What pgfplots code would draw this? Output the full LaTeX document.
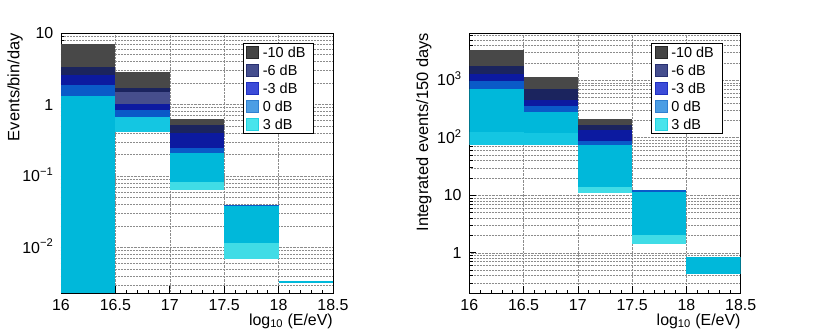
\documentclass[border=0pt]{standalone}
\usepackage{fontspec}
\setmainfont{Liberation Sans}
\usepackage{pgfplots}
\pgfplotsset{compat=1.18}

% histogram band colours
\definecolor{cgrey}{RGB}{72,72,72}
\definecolor{cnavy}{RGB}{27,36,94}
\definecolor{cslate}{RGB}{70,78,140}
\definecolor{cblue}{RGB}{12,26,160}
\definecolor{cmed}{RGB}{10,90,200}
\definecolor{ccyan}{RGB}{0,184,218}
\definecolor{ccyanb}{RGB}{20,198,226}
\definecolor{clight}{RGB}{64,220,230}
% legend swatches
\definecolor{lgA}{RGB}{69,69,69}\definecolor{lgAb}{RGB}{40,40,40}
\definecolor{lgB}{RGB}{69,78,142}\definecolor{lgBb}{RGB}{40,48,112}
\definecolor{lgC}{RGB}{60,76,216}\definecolor{lgCb}{RGB}{32,48,192}
\definecolor{lgD}{RGB}{76,158,228}\definecolor{lgDb}{RGB}{48,128,208}
\definecolor{lgE}{RGB}{72,228,236}\definecolor{lgEb}{RGB}{32,208,224}

% one filled band of a bin: x0, x1, ylow, yhigh, colour
\newcommand{\band}[5]{\addplot[draw=none, fill=#5, forget plot] coordinates {(#1,#3) (#2,#3) (#2,#4) (#1,#4)} --cycle;}

\begin{document}
\begin{tikzpicture}
\path[use as bounding box] (-61bp,-41bp) rectangle (753bp,293bp);

% Left: events per bin per day
\begin{axis}[at={(0bp,0bp)}, anchor=south west,
  ymode=log, scale only axis, width=272bp, height=260bp,
  xmin=16, xmax=18.5,
  xtick={16,16.5,17,17.5,18,18.5},
  xticklabels={16,16.5,17,17.5,18,18.5},
  minor x tick num=4,
  tick align=inside, tick pos=left,
  major tick length=7bp, minor tick length=3.5bp,
  tick style={black, line width=0.6bp},
  axis line style={line width=0.8bp},
  xmajorgrids, ymajorgrids, yminorgrids,
  grid style={densely dotted, black!45, line width=0.5bp},
  minor grid style={densely dotted, black!45, line width=0.5bp},
  ticklabel style={font=\fontsize{16}{19}\selectfont},
  xticklabel style={anchor=base, inner sep=0bp, yshift=-17bp},
  yticklabel style={anchor=base east, inner sep=0bp, xshift=-7.5bp, yshift=-5.7bp},
  xlabel={log\textsubscript{10} (E/eV)},
  xlabel style={at={(axis description cs:1,-0.1231)}, anchor=base east, inner sep=0bp, font=\fontsize{16}{19}\selectfont},
  legend image code/.code={\draw[#1, line width=0.8bp] (0bp,-6bp) rectangle (12bp,6bp);},
  legend cell align=left,
  legend style={at={(0.668,0.960)}, anchor=north west, draw=black, line width=0.8bp,
    font=\fontsize{14.5}{17}\selectfont, inner xsep=3bp, inner ysep=0bp, column sep=4bp,
    nodes={inner xsep=0bp, inner ysep=0bp, minimum height=18bp}},
  ymin=0.0023, ymax=10,
  ytick={0.01,0.1,1,10},
  yticklabels={10\textsuperscript{−2}, 10\textsuperscript{−1}, 1, 10},
  minor ytick={0.003,0.004,0.005,0.006,0.007,0.008,0.009,
               0.02,0.03,0.04,0.05,0.06,0.07,0.08,0.09,
               0.2,0.3,0.4,0.5,0.6,0.7,0.8,0.9,
               2,3,4,5,6,7,8,9},
  ylabel={Events/bin/day},
  ylabel style={at={(axis description cs:-0.1397,1)}, anchor=south east, inner sep=0bp, font=\fontsize{16.5}{19}\selectfont},
]
% bin 16.0-16.5
\band{16}{16.5}{3.38}{6.95}{cgrey}
\band{16}{16.5}{2.59}{3.38}{cnavy}
\band{16}{16.5}{1.87}{2.59}{cblue}
\band{16}{16.5}{1.33}{1.87}{cmed}
\band{16}{16.5}{0.0023}{1.33}{ccyan}
% bin 16.5-17.0
\band{16.5}{17}{1.72}{2.82}{cgrey}
\band{16.5}{17}{1.51}{1.72}{cnavy}
\band{16.5}{17}{1.02}{1.51}{cslate}
\band{16.5}{17}{0.838}{1.02}{cblue}
\band{16.5}{17}{0.662}{0.838}{cmed}
\band{16.5}{17}{0.41}{0.662}{ccyanb}
% bin 17.0-17.5
\band{17}{17.5}{0.517}{0.627}{cgrey}
\band{17}{17.5}{0.396}{0.517}{cnavy}
\band{17}{17.5}{0.249}{0.396}{cblue}
\band{17}{17.5}{0.212}{0.249}{cmed}
\band{17}{17.5}{0.083}{0.212}{ccyan}
\band{17}{17.5}{0.0637}{0.083}{clight}
% bin 17.5-18.0
\band{17.5}{18}{0.0385}{0.0397}{cmed}
\band{17.5}{18}{0.0117}{0.0385}{ccyan}
\band{17.5}{18}{0.00684}{0.0117}{clight}
% bin 18.0-18.5
\band{18}{18.5}{0.00318}{0.00336}{ccyan}

\addlegendimage{fill=lgA, draw=lgAb}\addlegendentry{-10 dB\kern5bp}
\addlegendimage{fill=lgB, draw=lgBb}\addlegendentry{-6 dB}
\addlegendimage{fill=lgC, draw=lgCb}\addlegendentry{-3 dB}
\addlegendimage{fill=lgD, draw=lgDb}\addlegendentry{0 dB}
\addlegendimage{fill=lgE, draw=lgEb}\addlegendentry{3 dB}
\end{axis}

% Right: integrated events over 150 days
\begin{axis}[at={(408.3bp,0bp)}, anchor=south west,
  ymode=log, scale only axis, width=271.4bp, height=260bp,
  xmin=16, xmax=18.5,
  xtick={16,16.5,17,17.5,18,18.5},
  xticklabels={16,16.5,17,17.5,18,18.5},
  minor x tick num=4,
  tick align=inside, tick pos=left,
  major tick length=7bp, minor tick length=3.5bp,
  tick style={black, line width=0.6bp},
  axis line style={line width=0.8bp},
  xmajorgrids, ymajorgrids, yminorgrids,
  grid style={densely dotted, black!45, line width=0.5bp},
  minor grid style={densely dotted, black!45, line width=0.5bp},
  ticklabel style={font=\fontsize{16}{19}\selectfont},
  xticklabel style={anchor=base, inner sep=0bp, yshift=-17bp},
  yticklabel style={anchor=base east, inner sep=0bp, xshift=-7.5bp, yshift=-5.7bp},
  xlabel={log\textsubscript{10} (E/eV)},
  xlabel style={at={(axis description cs:1,-0.1231)}, anchor=base east, inner sep=0bp, font=\fontsize{16}{19}\selectfont},
  legend image code/.code={\draw[#1, line width=0.8bp] (0bp,-6bp) rectangle (12bp,6bp);},
  legend cell align=left,
  legend style={at={(0.670,0.960)}, anchor=north west, draw=black, line width=0.8bp,
    font=\fontsize{14.5}{17}\selectfont, inner xsep=3bp, inner ysep=0bp, column sep=4bp,
    nodes={inner xsep=0bp, inner ysep=0bp, minimum height=18bp}},
  ymin=0.2, ymax=6600,
  ytick={1,10,100,1000},
  yticklabels={1, 10, 10\textsuperscript{2}, 10\textsuperscript{3}},
  minor ytick={0.3,0.4,0.5,0.6,0.7,0.8,0.9,
               2,3,4,5,6,7,8,9,
               20,30,40,50,60,70,80,90,
               200,300,400,500,600,700,800,900,
               2000,3000,4000,5000,6000},
  ylabel={Integrated events/150 days},
  ylabel style={at={(axis description cs:-0.1385,1)}, anchor=south east, inner sep=0bp, font=\fontsize{16.5}{19}\selectfont},
]
% bin 16.0-16.5
\band{16}{16.5}{1787}{3390}{cgrey}
\band{16}{16.5}{1297}{1787}{cnavy}
\band{16}{16.5}{955}{1297}{cblue}
\band{16}{16.5}{703}{955}{cmed}
\band{16}{16.5}{125}{703}{ccyan}
\band{16}{16.5}{73.4}{125}{ccyanb}
% bin 16.5-17.0
\band{16.5}{17}{703}{1119}{cgrey}
\band{16.5}{17}{458}{703}{cnavy}
\band{16.5}{17}{360}{458}{cblue}
\band{16.5}{17}{280}{360}{cmed}
\band{16.5}{17}{122}{280}{ccyan}
\band{16.5}{17}{73.4}{122}{ccyanb}
% bin 17.0-17.5
\band{17}{17.5}{168}{211}{cgrey}
\band{17}{17.5}{134}{168}{cnavy}
\band{17}{17.5}{88.7}{134}{cblue}
\band{17}{17.5}{73.4}{88.7}{cmed}
\band{17}{17.5}{13.7}{73.4}{ccyan}
\band{17}{17.5}{10.9}{13.7}{clight}
% bin 17.5-18.0
\band{17.5}{18}{11.6}{12.1}{cmed}
\band{17.5}{18}{2.06}{11.6}{ccyan}
\band{17.5}{18}{1.42}{2.06}{clight}
% bin 18.0-18.5
\band{18}{18.5}{0.431}{0.842}{ccyan}

\addlegendimage{fill=lgA, draw=lgAb}\addlegendentry{-10 dB\kern5bp}
\addlegendimage{fill=lgB, draw=lgBb}\addlegendentry{-6 dB}
\addlegendimage{fill=lgC, draw=lgCb}\addlegendentry{-3 dB}
\addlegendimage{fill=lgD, draw=lgDb}\addlegendentry{0 dB}
\addlegendimage{fill=lgE, draw=lgEb}\addlegendentry{3 dB}
\end{axis}
\end{tikzpicture}
\end{document}
